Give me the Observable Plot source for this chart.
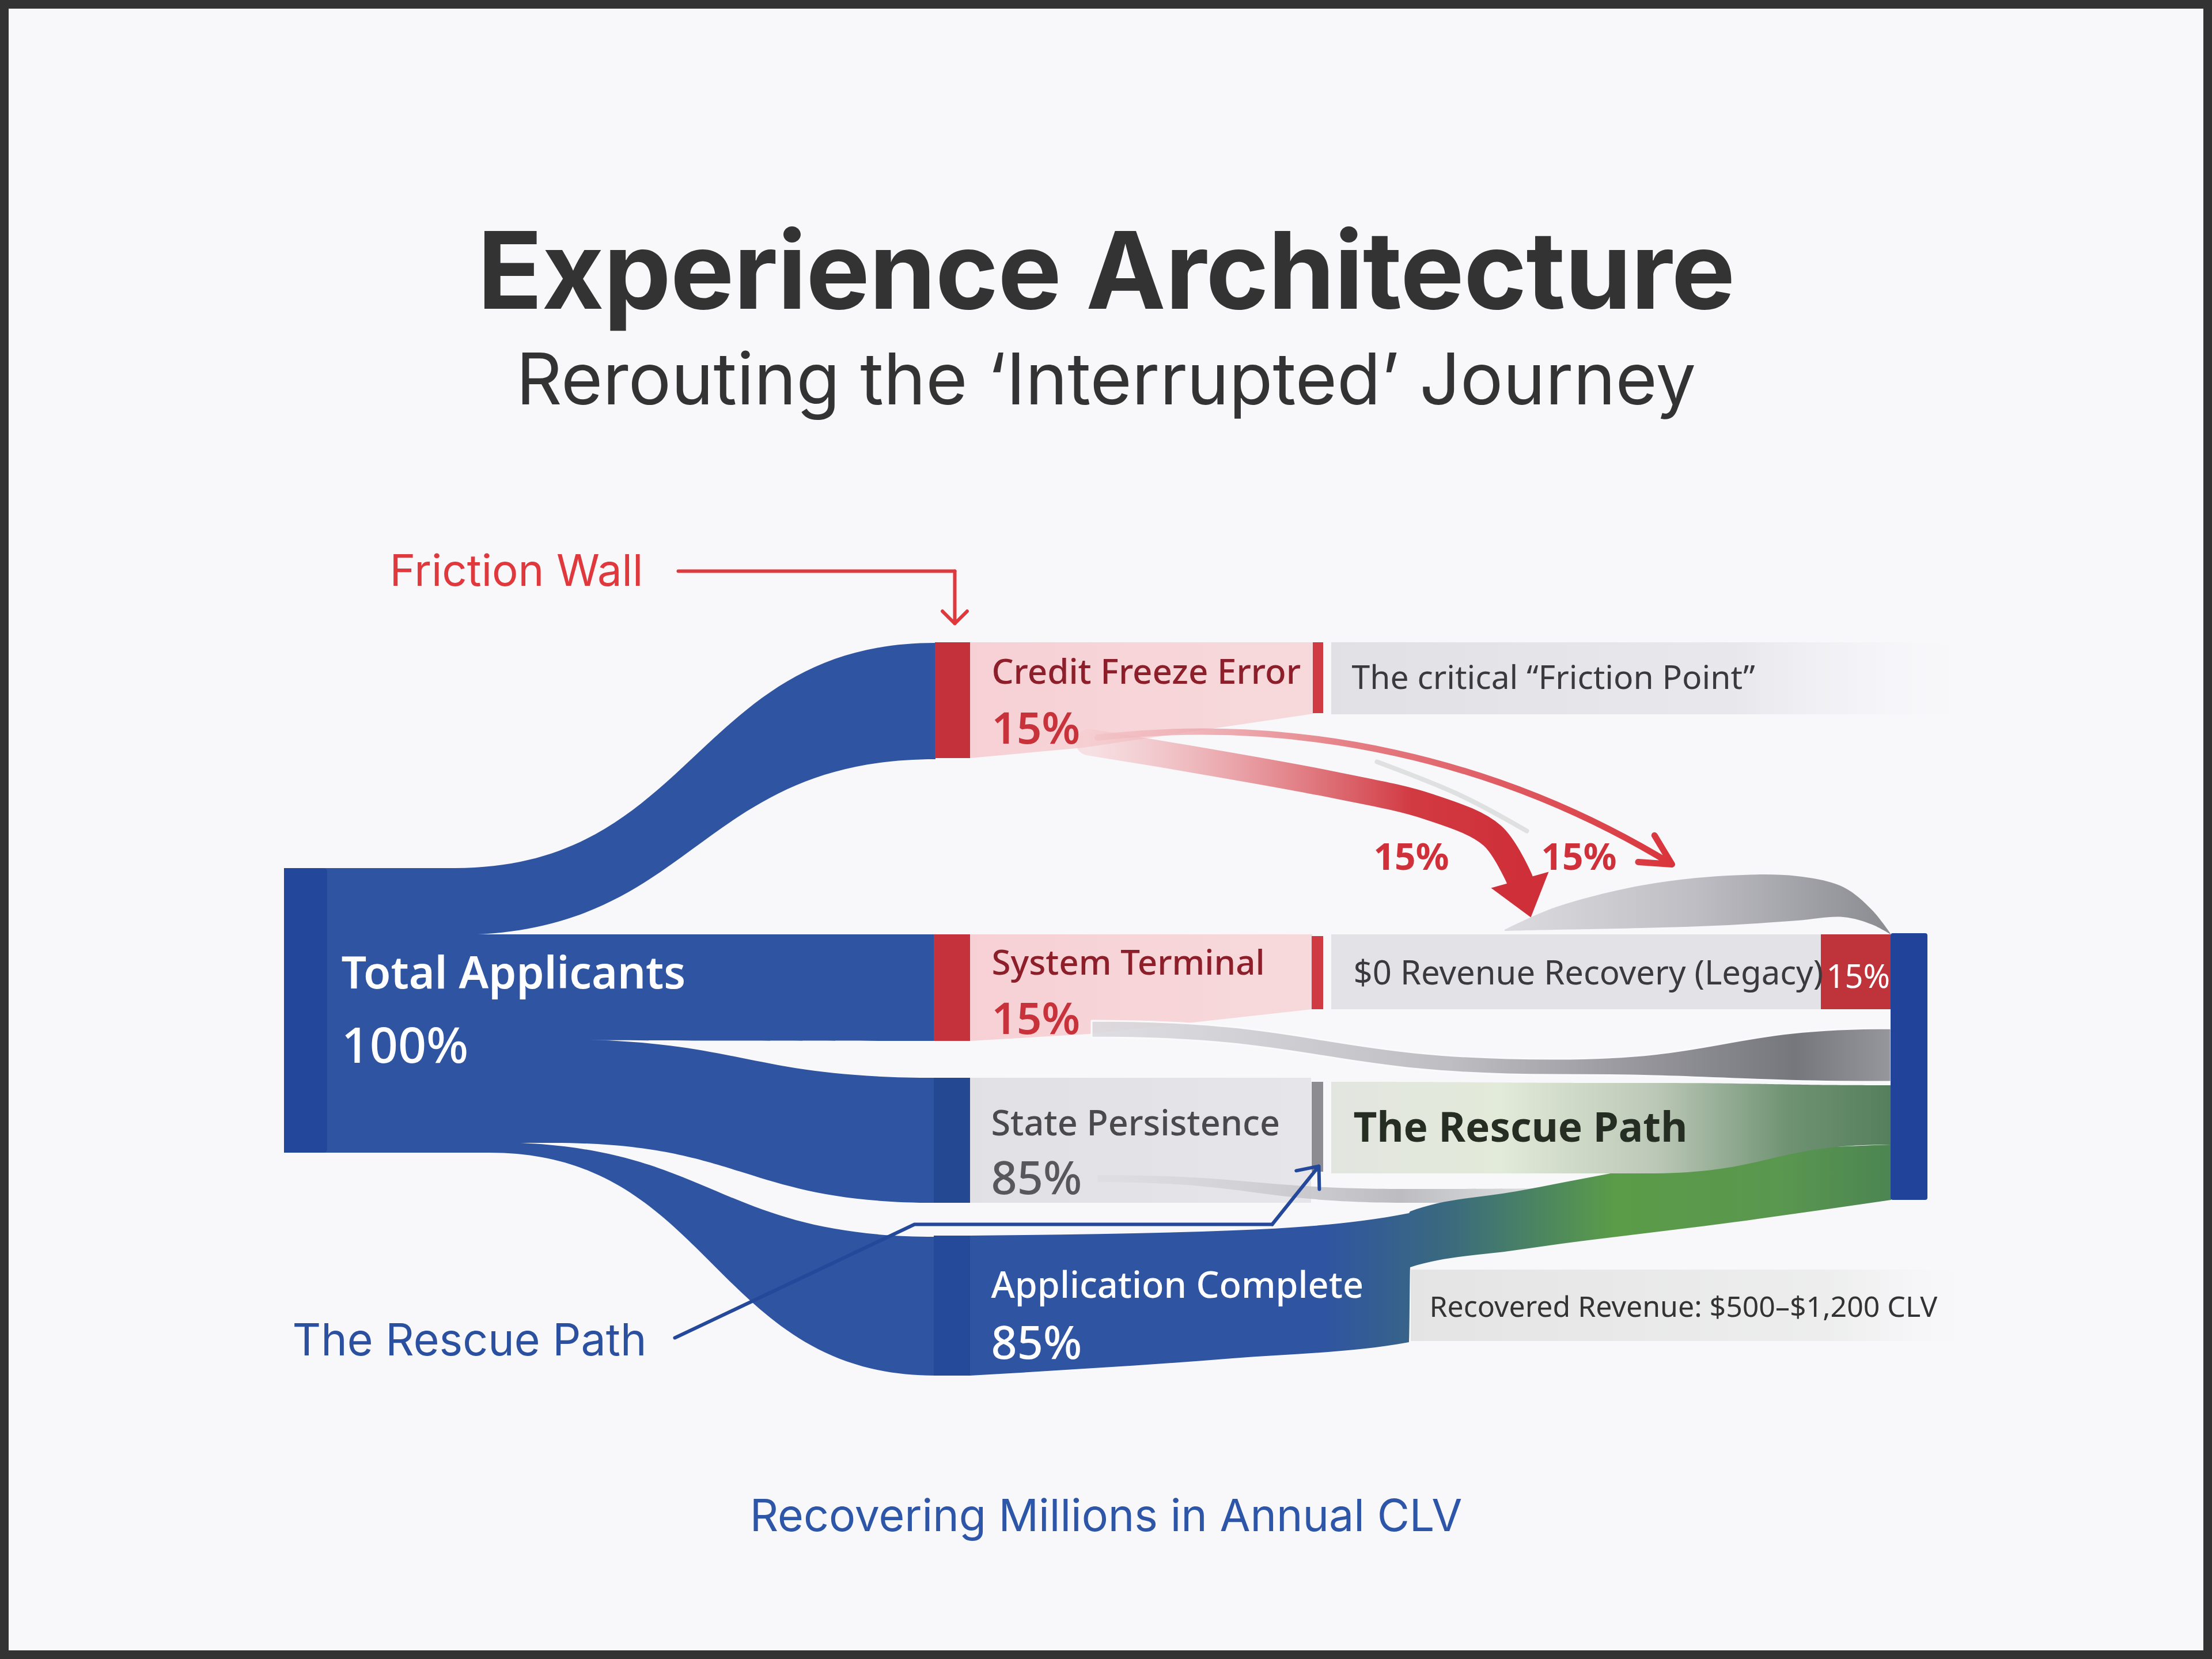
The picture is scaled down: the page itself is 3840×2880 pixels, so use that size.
<!DOCTYPE html>
<html><head><meta charset="utf-8">
<script src="https://cdn.jsdelivr.net/npm/d3@7"></script>
<script src="https://cdn.jsdelivr.net/npm/@observablehq/plot@0.6"></script>
<style>
html,body{margin:0;padding:0;background:#f7f6f9;}
#page{position:relative;width:3840px;height:2880px;overflow:hidden;background:#f8f7fa;}
#frame{position:absolute;left:0;top:0;width:3840px;height:2880px;box-sizing:border-box;border:15px solid #333;pointer-events:none;}
.t{position:absolute;left:0;width:3840px;text-align:center;white-space:nowrap;font-family:Inter,sans-serif;}
#title{top:376px;font-size:186px;line-height:186px;font-weight:700;color:#333;letter-spacing:-1px;}
#subtitle{top:595px;font-size:124px;line-height:124px;font-weight:400;color:#333;}
#caption{top:2592px;font-size:77px;line-height:77px;font-weight:400;color:#2d55a8;}
#chart{position:absolute;left:0;top:900px;}
</style></head>
<body><div id="page">
<div id="title" class="t"></div>
<div id="subtitle" class="t"></div>
<div id="chart"></div>
<div id="caption" class="t"></div>
<div id="frame"></div>
</div>
<script>
// ---------------- DATA ----------------
const titleText = "Experience Architecture";
const subtitleText = "Rerouting the ‘Interrupted’ Journey";
const captionText = "Recovering Millions in Annual CLV";
const stages = ["Total Applicants", "Credit Freeze Error", "System Terminal", "State Persistence", "Application Complete"];
const stageShares = [100, 15, 15, 85, 85];
const outcomes = ["The critical “Friction Point”", "$0 Revenue Recovery (Legacy)", "The Rescue Path", "Recovered Revenue: $500–$1,200 CLV"];
const legacyShare = 15;
const rerouteShares = [15, 15];
const callouts = ["Friction Wall", "The Rescue Path"];

// ---------------- LAYOUT (chart units) ----------------
const nodeBox = {
  "Total Applicants":     {x1: 493,  x2: 564,  y1: 1507, y2: 2001, fill: "#23479a"},
  "Credit Freeze Error":  {x1: 1623, x2: 1685, y1: 1115, y2: 1316, fill: "#c4313b"},
  "System Terminal":      {x1: 1621, x2: 1685, y1: 1622, y2: 1807, fill: "#c5323b"},
  "State Persistence":    {x1: 1621, x2: 1685, y1: 1871, y2: 2088, fill: "#254892"},
  "Application Complete": {x1: 1621, x2: 1685, y1: 2145, y2: 2388, fill: "#254a9a"}
};
const endBar = {x1: 3282, x2: 3346, y1: 1620, y2: 2083};
// flows from Total Applicants (x, top, bottom)
const blueFlows = [
  [[564, 1507, 1623], [790, 1507, 1623], [1624, 1116, 1318]],
  [[564, 1622, 1805], [1624, 1622, 1807]],
  [[564, 1804, 1984], [960, 1804, 1984], [1624, 1871, 2088]],
  [[564, 1983, 2001], [850, 1983, 2001], [1624, 2147, 2388]]
];
const pinkBoxes = [
  [[1684, 1115, 1316], [1880, 1115, 1298], [2280, 1115, 1239]],
  [[1684, 1622, 1807], [1890, 1622, 1795], [2278, 1622, 1752]]
];
const persistBox = {x1: 1684, x2: 2276, y1: 1871, y2: 2088};
const thinBars = [
  {x1: 2279, x2: 2297, y1: 1115, y2: 1238, fill: "#d03a43"},
  {x1: 2277, x2: 2297, y1: 1625, y2: 1752, fill: "#d03a43"},
  {x1: 2277, x2: 2297, y1: 1878, y2: 2034, fill: "#8c8c91"}
];
const frictionBox = {x1: 2311, x2: 3400, y1: 1115, y2: 1240};
const legacyBox = {x1: 2311, x2: 3162, y1: 1622, y2: 1752};
const legacyRed = {x1: 3161, x2: 3282, y1: 1622, y2: 1752};
const recoveredBox = {x1: 2449, x2: 3404, y1: 2204, y2: 2328};
const loopArc = [[2612, 1614, 1616], [2700, 1575, 1614], [2850, 1537, 1611], [3000, 1520, 1606], [3120, 1521, 1598], [3200, 1540, 1592], [3250, 1580, 1605], [3282, 1621, 1622]];
const greyFlow = [[1895, 1772, 1801], [2700, 1838, 1866], [3283, 1785, 1878]];
const persistLow = [[1905, 2040, 2052], [2450, 2064, 2088], [2950, 2062, 2084]];
const rescueFlow = [[2311, 1878, 2037], [2860, 1880, 2037], [3283, 1884, 1987]];
const appFlow = [[1684, 2145, 2388], [2140, 2136, 2358], [2446, 2106, 2330], [2448, 2103, 2200], [2633, 2068, 2170], [3015, 2003, 2121], [3283, 1987, 2083]];
const bigArrowPath = [[1890, 1288], [2060, 1316], [2315, 1362], [2480, 1400], [2590, 1450], [2638, 1527]];
const bigArrowHead = [[2588, 1541], [2657, 1592], [2688, 1513], [2588, 1541]];
const thinArrow = {x1: 1905, y1: 1280, x2: 2902, y2: 1500};
const faintLine = [[2390, 1322], [2530, 1378], [2650, 1442]];
const frictionLeader = [[1177, 991], [1657, 991]];
const frictionTip = {x1: 1657, y1: 991, x2: 1657, y2: 1082};
const rescueLeader = [[1171, 2322], [1587, 2125], [2208, 2125]];
const rescueTip = {x1: 2208, y1: 2125, x2: 2289, y2: 2024};

// text placement: [text, x, baseline y, size, weight, color, family]
const sans = "'Noto Sans', 'Open Sans', sans-serif";
const inter = "Inter, 'Noto Sans', sans-serif";
const labels = [
  [callouts[0], 676, 1016, 76, 400, "#e0393d", inter],
  [callouts[1], 507, 2352, 77, 400, "#2b50a0", inter],
  [stages[0], 592, 1715, 77, 600, "#ffffff", sans],
  [stageShares[0] + "%", 592, 1844, 86, 500, "#ffffff", sans],
  [stages[1], 1721, 1186, 60, 500, "#8d1f2b", sans],
  [stageShares[1] + "%", 1721, 1290, 76, 600, "#c7323b", sans],
  [stages[2], 1721, 1691, 60, 500, "#8d1f2b", sans],
  [stageShares[2] + "%", 1721, 1794, 76, 600, "#c7323b", sans],
  [stages[3], 1720, 1970, 61, 500, "#4a4a4c", sans],
  [stageShares[3] + "%", 1720, 2072, 79, 500, "#58585a", sans],
  [stages[4], 1720, 2252, 63, 500, "#ffffff", sans],
  [stageShares[4] + "%", 1720, 2358, 79, 500, "#ffffff", sans],
  [outcomes[0], 2346, 1195, 57, 400, "#3a3a3c", sans],
  [outcomes[1], 2349, 1708, 58, 400, "#3a3a3c", sans],
  [legacyShare + "%", 3170, 1714, 56, 400, "#ffffff", sans],
  [outcomes[2], 2349, 1981, 71, 700, "#262e24", sans],
  [outcomes[3], 2481, 2285, 50, 400, "#333333", sans],
  [rerouteShares[0] + "%", 2384, 1509, 64, 700, "#d0303a", sans],
  [rerouteShares[1] + "%", 2675, 1509, 64, 700, "#d0303a", sans]
];

// ---------------- HELPERS ----------------
const pts = (arr) => arr.map(([x, y1, y2]) => ({x, y1, y2}));
const xy = (arr) => arr.map(([x, y]) => ({x, y}));
const band = (arr, fill, curve = "bump-x", extra = {}) =>
  Plot.area(pts(arr), {x1: "x", y1: "y1", y2: "y2", curve, fill, ...extra});
const box = (b, fill, extra = {}) =>
  Plot.rect([b], {x1: "x1", x2: "x2", y1: "y1", y2: "y2", fill, ...extra});

document.getElementById("title").textContent = titleText;
document.getElementById("subtitle").textContent = subtitleText;
document.getElementById("caption").textContent = captionText;

const marks = [];
// blue flows
blueFlows.forEach(f => marks.push(band(f, "#2f54a2")));
// nodes
stages.forEach(s => marks.push(box(nodeBox[s], nodeBox[s].fill)));
marks.push(box({...nodeBox["Total Applicants"], x1: 493, x2: 568}, "#23479a", {rx: 6}));
// label boxes
marks.push(band(pinkBoxes[0], "url(#gPink)", "linear"));
marks.push(band(pinkBoxes[1], "url(#gPink)", "linear"));
marks.push(box(persistBox, "url(#gPersist)"));
thinBars.forEach(b => marks.push(box(b, b.fill)));
marks.push(box(frictionBox, "url(#gFade)"));
marks.push(box(legacyBox, "#e3e2e7"));
marks.push(box(legacyRed, "#bf343b"));
// flows to outcome
marks.push(band(loopArc, "url(#gLoop)", "catmull-rom"));
marks.push(band(persistLow, "url(#gPersistLow)"));
marks.push(band(appFlow, "url(#gApp)", "monotone-x"));
marks.push(band(rescueFlow, "url(#gRescue)", "bump-x"));
marks.push(band(greyFlow, "url(#gGrey)", "bump-x", {stroke: "#fafafc", strokeWidth: 3}));
marks.push(box(recoveredBox, "url(#gRecovered)"));
marks.push(box(endBar, "#21449a", {rx: 4}));
// reroute arrows
marks.push(Plot.line(xy(faintLine), {x: "x", y: "y", curve: "natural", stroke: "#d4d6d4", strokeWidth: 8, strokeOpacity: 0.7}));
marks.push(Plot.line(xy(bigArrowPath), {x: "x", y: "y", curve: "catmull-rom", stroke: "url(#gBigArrow)", strokeWidth: 46}));
marks.push(Plot.line(xy(bigArrowHead), {x: "x", y: "y", fill: "#cf2f38", stroke: "none"}));
marks.push(Plot.arrow([thinArrow], {x1: "x1", y1: "y1", x2: "x2", y2: "y2", bend: 19, stroke: "url(#gThin)", strokeWidth: 11, headLength: 8, headAngle: 55}));
// callout leaders
marks.push(Plot.line(xy(frictionLeader), {x: "x", y: "y", stroke: "#e0393d", strokeWidth: 6}));
marks.push(Plot.arrow([frictionTip], {x1: "x1", y1: "y1", x2: "x2", y2: "y2", stroke: "#e0393d", strokeWidth: 6, headLength: 10, headAngle: 90}));
marks.push(Plot.line(xy(rescueLeader), {x: "x", y: "y", stroke: "#24489a", strokeWidth: 6}));
marks.push(Plot.arrow([rescueTip], {x1: "x1", y1: "y1", x2: "x2", y2: "y2", stroke: "#24489a", strokeWidth: 6, headLength: 10, headAngle: 80}));
// text
labels.forEach(([text, x, y, size, weight, color, family]) => {
  marks.push(Plot.text([{text, x, y}], {x: "x", y: "y", text: "text", fill: color, fontSize: size, fontWeight: weight, fontFamily: family, textAnchor: "start", lineAnchor: "bottom"}));
});

const svg = Plot.plot({
  width: 3840,
  height: 1550,
  margin: 0,
  x: {domain: [0, 3840], range: [0, 3840], axis: null},
  y: {domain: [900, 2450], range: [0, 1550], axis: null},
  style: {background: "transparent", overflow: "visible"},
  marks
});

// gradients
const NS = "http://www.w3.org/2000/svg";
const defs = document.createElementNS(NS, "defs");
const grads = {
  gPink: [[0, "#f6d0d4", 1], [0.6, "#f7d6d9", 1], [1, "#f6d9dc", 1]],
  gPersist: [[0, "#e1e0e5", 1], [1, "#e6e5e9", 1]],
  gFade: [[0, "#e1e0e5", 1], [0.65, "#e7e6ea", 0.9], [1, "#f2f1f5", 0]],
  gRecovered: [[0, "#e3e4e3", 1], [0.75, "#ebeceb", 0.9], [1, "#f2f2f3", 0]],
  gLoop: [[0, "#dcdce0", 1], [0.5, "#bdbdc3", 1], [1, "#8a8a91", 1]],
  gGrey: [[0, "#dadade", 0.85], [0.45, "#bdbdc2", 1], [0.88, "#76767d", 1], [1, "#96969d", 1]],
  gPersistLow: [[0, "#dcdce0", 0.6], [0.5, "#bcbcc1", 1], [1, "#cfd5cc", 0]],
  gRescue: [[0, "#e3e5e0", 1], [0.3, "#e2ead9", 1], [0.58, "#bcc8b7", 1], [0.82, "#6e9272", 1], [1, "#557f5c", 1]],
  gApp: [[0, "#2f54a2", 1], [0.38, "#2f54a2", 1], [0.52, "#3a6a7e", 1], [0.7, "#5a9c48", 1], [0.88, "#5a974f", 1], [1, "#4c8552", 1]],
  gBigArrow: [[0, "#f4c9cc", 0.5], [0.4, "#e48a90", 0.9], [0.75, "#d23a42", 1], [1, "#cf2f38", 1]],
  gThin: [[0, "#f2c0c4", 0.7], [0.45, "#e47d83", 1], [1, "#d9343c", 1]]
};
for (const [id, stops] of Object.entries(grads)) {
  const g = document.createElementNS(NS, "linearGradient");
  g.setAttribute("id", id);
  g.setAttribute("x1", "0"); g.setAttribute("x2", "1"); g.setAttribute("y1", "0"); g.setAttribute("y2", "0");
  for (const [o, c, a] of stops) {
    const s = document.createElementNS(NS, "stop");
    s.setAttribute("offset", o);
    s.setAttribute("stop-color", c);
    s.setAttribute("stop-opacity", a);
    g.appendChild(s);
  }
  defs.appendChild(g);
}
svg.insertBefore(defs, svg.firstChild);
document.getElementById("chart").appendChild(svg);
</script>
</body></html>
